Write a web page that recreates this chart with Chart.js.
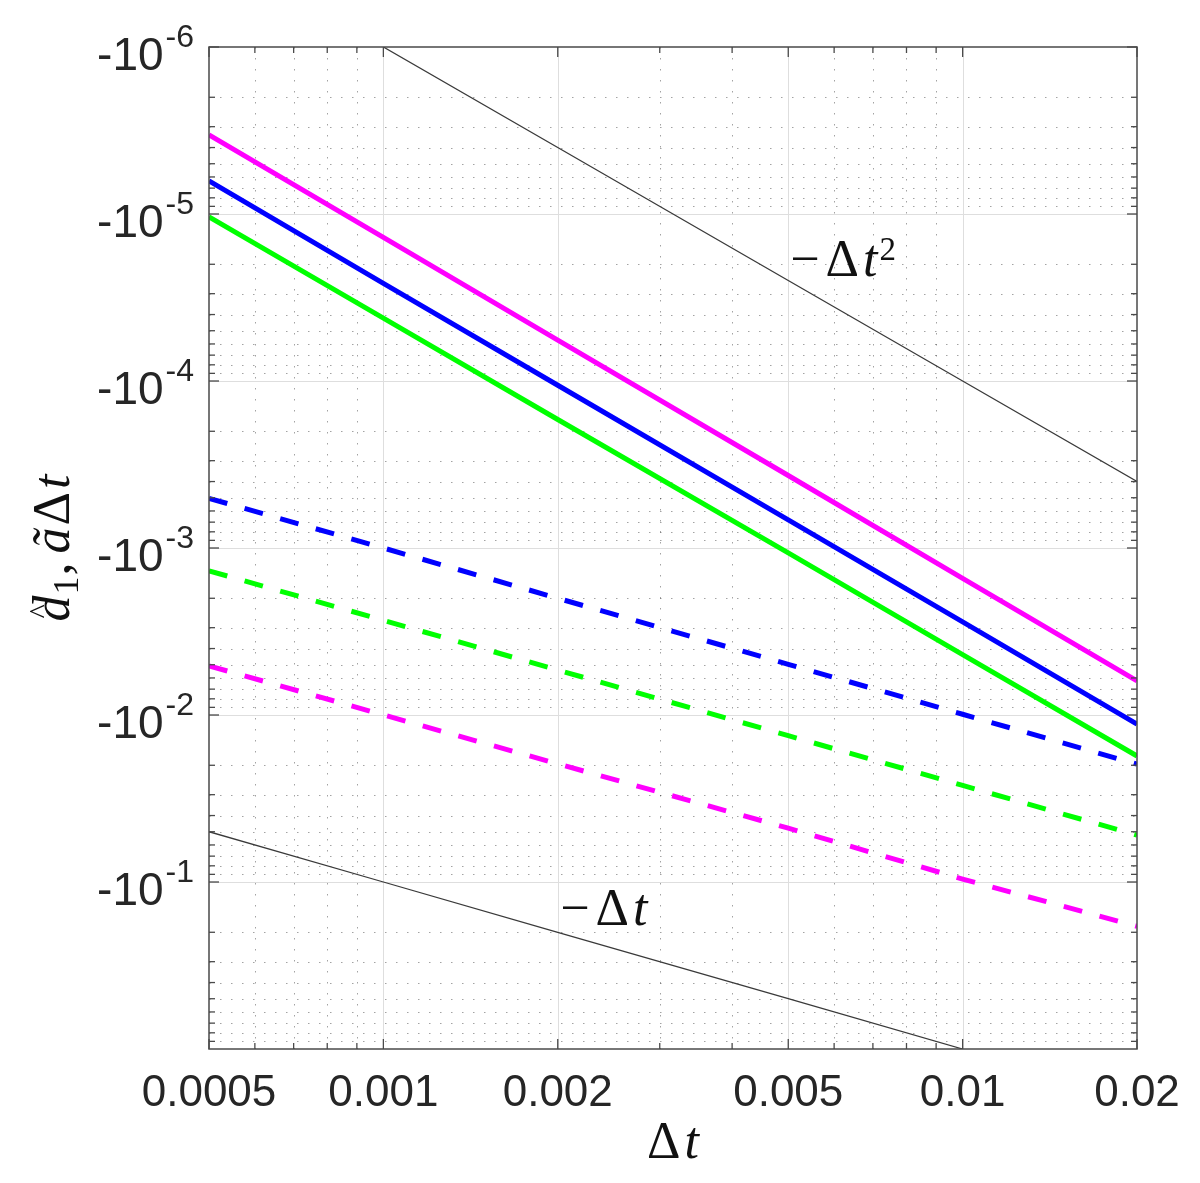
<!DOCTYPE html>
<html><head><meta charset="utf-8">
<script src="https://cdn.jsdelivr.net/npm/chart.js@4.4.0/dist/chart.umd.min.js"></script>
<style>html,body{margin:0;padding:0;background:#fff;}canvas{display:block;}</style>
</head><body>
<canvas id="c" width="1200" height="1183"></canvas>
<script>
// ---- data (magnitudes; axis labels show them as negatives) ----
const dt            = [0.0005, 0.001, 0.002, 0.005, 0.01, 0.02];
const magentaSolid  = [3.36e-6, 1.38e-5, 5.69e-5, 3.68e-4, 1.52e-3, 6.24e-3];
const blueSolid     = [6.34e-6, 2.60e-5, 1.06e-4, 6.79e-4, 2.77e-3, 1.135e-2];
const greenSolid    = [1.04e-5, 4.20e-5, 1.70e-4, 1.07e-3, 4.35e-3, 1.76e-2];
const blueDashed    = [5.04e-4, 1.00e-3, 2.00e-3, 4.97e-3, 9.9e-3, 1.97e-2];
const greenDashed   = [1.37e-3, 2.71e-3, 5.38e-3, 1.33e-2, 2.64e-2, 5.24e-2];
const magentaDashed = [5.08e-3, 9.98e-3, 1.96e-2, 4.76e-2, 9.6e-2, 0.184];
const refSqDt   = [0.001, 0.002, 0.005, 0.01, 0.02];
const refSqVal  = [1e-6, 4e-6, 2.5e-5, 1e-4, 4e-4];
const refLinDt  = [0.0005, 0.001, 0.002, 0.005, 0.01];
const refLinVal = [0.05, 0.1, 0.2, 0.5, 1];

const xTickValues = [0.0005, 0.001, 0.002, 0.005, 0.01, 0.02];
const xTickLabels = ['0.0005', '0.001', '0.002', '0.005', '0.01', '0.02'];
const xMinorValues = [0.0006, 0.0007, 0.0008, 0.0009, 0.003, 0.004, 0.006, 0.007, 0.008, 0.009];
const yTickValues = [1e-6, 1e-5, 1e-4, 1e-3, 1e-2, 1e-1];
const yTickExponents = ['-6', '-5', '-4', '-3', '-2', '-1'];
const yMinorMultipliers = [2, 3, 4, 5, 6, 7, 8, 9];

const yMinorValues = [];
yTickValues.forEach(d => yMinorMultipliers.forEach(m => yMinorValues.push(m * d)));

function pts(xs, ys) { return xs.map((x, i) => ({x: x, y: ys[i]})); }

const AX = '#4a4a4a';
const TXT = '#262626';
const SANS = '"Liberation Sans", Arial, sans-serif';
const SERIF = '"Liberation Serif", "Times New Roman", serif';

function seg(ctx, x1, y1, x2, y2) { ctx.beginPath(); ctx.moveTo(x1, y1); ctx.lineTo(x2, y2); ctx.stroke(); }

function drawPieces(ctx, pieces, x0, y0, align) {
  let total = 0;
  pieces.forEach(p => { ctx.font = p.font; p.w = ctx.measureText(p.s).width; total += (p.dx || 0) + p.w; });
  let cx = align === 'center' ? x0 - total / 2 : x0;
  ctx.textAlign = 'left';
  ctx.textBaseline = 'alphabetic';
  pieces.forEach(p => {
    cx += (p.dx || 0);
    ctx.font = p.font;
    ctx.fillText(p.s, cx, y0 + (p.dy || 0));
    if (p.hat) {
      ctx.font = p.hat.font;
      const hw = ctx.measureText(p.hat.s).width;
      ctx.fillText(p.hat.s, cx + p.w / 2 - hw / 2 + (p.hat.dx || 0), y0 + (p.hat.dy || 0));
    }
    cx += p.w;
  });
}

const up51 = '52px ' + SERIF;
const it51 = 'italic 52px ' + SERIF;

const axesPlugin = {
  id: 'matlabAxes',
  beforeDatasetsDraw(chart) {
    const {ctx, chartArea: a, scales: {x, y}} = chart;
    ctx.save();
    ctx.lineWidth = 1;
    ctx.strokeStyle = 'rgba(0,0,0,0.36)';
    ctx.setLineDash([1.5, 9.5]);
    xMinorValues.forEach(v => { const p = Math.round(x.getPixelForValue(v)) + 0.5; seg(ctx, p, a.top, p, a.bottom); });
    yMinorValues.forEach(v => { if (v >= 1) return; const p = Math.round(y.getPixelForValue(v)) + 0.5; seg(ctx, a.left, p, a.right, p); });
    ctx.setLineDash([]);
    ctx.strokeStyle = '#dedede';
    xTickValues.slice(1, -1).forEach(v => { const p = Math.round(x.getPixelForValue(v)) + 0.5; seg(ctx, p, a.top, p, a.bottom); });
    yTickValues.slice(1).forEach(v => { const p = Math.round(y.getPixelForValue(v)) + 0.5; seg(ctx, a.left, p, a.right, p); });
    ctx.restore();
  },
  afterDatasetsDraw(chart) {
    const {ctx, chartArea: a, scales: {x, y}} = chart;
    ctx.save();
    // ticks (inward, all four sides)
    ctx.strokeStyle = AX;
    ctx.lineWidth = 1.3;
    const xt = (v, L) => { const p = x.getPixelForValue(v); seg(ctx, p, a.bottom, p, a.bottom - L); seg(ctx, p, a.top, p, a.top + L); };
    const yt = (v, L) => { const p = y.getPixelForValue(v); seg(ctx, a.left, p, a.left + L, p); seg(ctx, a.right, p, a.right - L, p); };
    xTickValues.forEach(v => xt(v, 10));
    xMinorValues.forEach(v => xt(v, 6));
    yTickValues.forEach(v => yt(v, 10));
    yMinorValues.forEach(v => { if (v < 1) yt(v, 6); });
    // box
    ctx.lineWidth = 1.5;
    ctx.strokeRect(a.left, a.top, a.right - a.left, a.bottom - a.top);

    // tick labels
    ctx.fillStyle = TXT;
    ctx.textBaseline = 'alphabetic';
    ctx.textAlign = 'center';
    ctx.font = '44px ' + SANS;
    xTickValues.forEach((v, i) => ctx.fillText(xTickLabels[i], x.getPixelForValue(v), a.bottom + 57));
    yTickValues.forEach((v, i) => {
      const p = y.getPixelForValue(v);
      const right = a.left - 15;
      ctx.font = '32px ' + SANS;
      ctx.textAlign = 'right';
      const ew = ctx.measureText(yTickExponents[i]).width;
      ctx.fillText(yTickExponents[i], right, p);
      ctx.font = '46px ' + SANS;
      ctx.fillText('-10', right - ew - 2, p + 23);
    });

    // axis titles
    ctx.fillStyle = '#111';
    drawPieces(ctx, [
      {s: '\u0394', font: up51},
      {s: 't', font: it51, dx: 4}
    ], (a.left + a.right) / 2, a.bottom + 109, 'center');

    ctx.save();
    ctx.translate(69, (a.top + a.bottom) / 2);
    ctx.rotate(-Math.PI / 2);
    drawPieces(ctx, [
      {s: 'd', font: it51, hat: {s: '^', font: '30px ' + SERIF, dy: -19, dx: -3}},
      {s: '1', font: '36px ' + SERIF, dy: 9, dx: 1},
      {s: ',', font: up51, dx: 1},
      {s: '\u00E3', font: it51, dx: 9},
      {s: '\u0394', font: up51, dx: 2},
      {s: 't', font: it51, dx: 3}
    ], 0, 0, 'center');
    ctx.restore();

    // reference-line annotations
    drawPieces(ctx, [
      {s: '\u2212', font: up51},
      {s: '\u0394', font: up51, dx: 6},
      {s: 't', font: it51, dx: 4},
      {s: '2', font: '33px ' + SERIF, dy: -16, dx: 2}
    ], x.getPixelForValue(0.00504), y.getPixelForValue(2.36e-5), 'left');
    drawPieces(ctx, [
      {s: '\u2212', font: up51},
      {s: '\u0394', font: up51, dx: 6},
      {s: 't', font: it51, dx: 4}
    ], x.getPixelForValue(0.00202), y.getPixelForValue(0.18), 'left');
    ctx.restore();
  }
};

function ds(data, color, dashed, width) {
  return {data: data, borderColor: color, backgroundColor: color, borderWidth: width,
          borderDash: dashed ? [19, 18] : [], pointRadius: 0, tension: 0, fill: false,
          borderCapStyle: 'butt', borderJoinStyle: 'round'};
}

new Chart(document.getElementById('c'), {
  type: 'line',
  data: {
    datasets: [
      ds(pts(dt, magentaSolid), '#ff00ff', false, 5),
      ds(pts(dt, blueSolid), '#0000ff', false, 5),
      ds(pts(dt, greenSolid), '#00ff00', false, 5),
      ds(pts(dt, blueDashed), '#0000ff', true, 5),
      ds(pts(dt, greenDashed), '#00ff00', true, 5),
      ds(pts(dt, magentaDashed), '#ff00ff', true, 5),
      ds(pts(refSqDt, refSqVal), '#3a3a3a', false, 1.3),
      ds(pts(refLinDt, refLinVal), '#3a3a3a', false, 1.3)
    ]
  },
  options: {
    responsive: false,
    devicePixelRatio: 1,
    animation: false,
    layout: {padding: {left: 209, top: 47, right: 63, bottom: 134}},
    plugins: {legend: {display: false}, tooltip: {enabled: false}},
    scales: {
      x: {type: 'logarithmic', min: 0.0005, max: 0.02, display: false},
      y: {type: 'logarithmic', min: 1e-6, max: 1, reverse: true, display: false}
    }
  },
  plugins: [axesPlugin]
});
</script>
</body></html>
